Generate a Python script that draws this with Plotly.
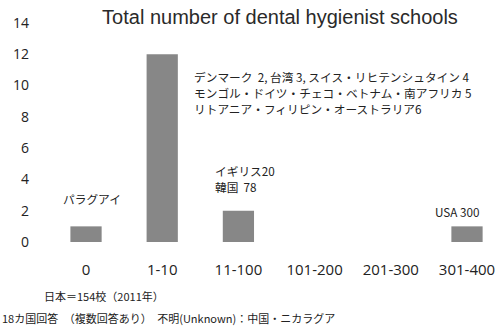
import plotly.graph_objects as go

# School-count bands and how many countries fall in each
categories = ["0", "1-10", "11-100", "101-200", "201-300", "301-400"]
countries = [1, 12, 2, 0, 0, 1]
y_ticks = [0, 2, 4, 6, 8, 10, 12, 14]

title_text = "Total number of dental hygienist schools"
note_paraguay = "パラグアイ"
note_uk_korea = ["イギリス20", "韓国  78"]
note_usa = "USA 300"
detail_note = ["デンマーク  2, 台湾 3, スイス・リヒテンシュタイン 4",
               "モンゴル・ドイツ・チェコ・ベトナム・南アフリカ 5",
               "リトアニア・フィリピン・オーストラリア6"]
footer_japan = "日本＝154校（2011年）"
footer_answers = "18カ国回答　（複数回答あり）　不明(Unknown)：中国・ニカラグア"

JP = "Noto Sans CJK JP"
INK = "#222222"

W, H = 499, 329
ML, MR, MT, MB = 32, 0, 23, 87
pw, ph = W - ML - MR, H - MT - MB
LINE = 1.02  # one text line, in axis units

fig = go.Figure(
    go.Bar(
        x=categories,
        y=countries,
        marker=dict(color="#878787", line=dict(width=0)),
        width=0.41,
    )
)


def note(x, y, text, xanchor="center", size=11.7):
    return dict(x=x, y=y, xref="x", yref="y", text=text, showarrow=False,
                xanchor=xanchor, yanchor="middle", align="left",
                font=dict(family=JP, size=size, color=INK))


def paper_note(px, py, text):
    return dict(x=(px - ML) / pw, y=(H - MB - py) / ph, xref="paper", yref="paper",
                text=text, showarrow=False, xanchor="left", yanchor="middle",
                font=dict(family=JP, size=11, color=INK))


annotations = [
    note(0.08, 2.8, note_paraguay),
    note(4.87, 1.95, note_usa),
    paper_note(42, 296, footer_japan),
    paper_note(0, 318, footer_answers),
]
for i, line in enumerate(note_uk_korea):
    annotations.append(note(1.66, 4.54 - i * LINE, line, xanchor="left"))
for i, line in enumerate(detail_note):
    annotations.append(note(1.39, 10.55 - i * LINE, line, xanchor="left"))

fig.update_layout(
    width=W, height=H,
    margin=dict(l=ML, r=MR, t=MT, b=MB),
    paper_bgcolor="white", plot_bgcolor="white",
    showlegend=False,
    title=dict(
        text=title_text, x=280 / W, xanchor="center", y=1 - 17 / H, yanchor="middle",
        font=dict(family="Liberation Sans, Arial", size=20, color="#2a2a2a"),
    ),
    xaxis=dict(
        type="category",
        range=[-0.709, 5.42],
        showgrid=False, zeroline=False, showline=False,
        ticks="", ticklabelstandoff=17,
        tickfont=dict(family="Open Sans", size=15, color=INK),
    ),
    yaxis=dict(
        range=[0, 14],
        tickvals=y_ticks,
        showgrid=False, zeroline=False, showline=False,
        ticks="", ticklabelstandoff=2,
        tickfont=dict(family="Open Sans", size=14, color=INK),
    ),
    annotations=annotations,
)

fig.write_html("out.html")
